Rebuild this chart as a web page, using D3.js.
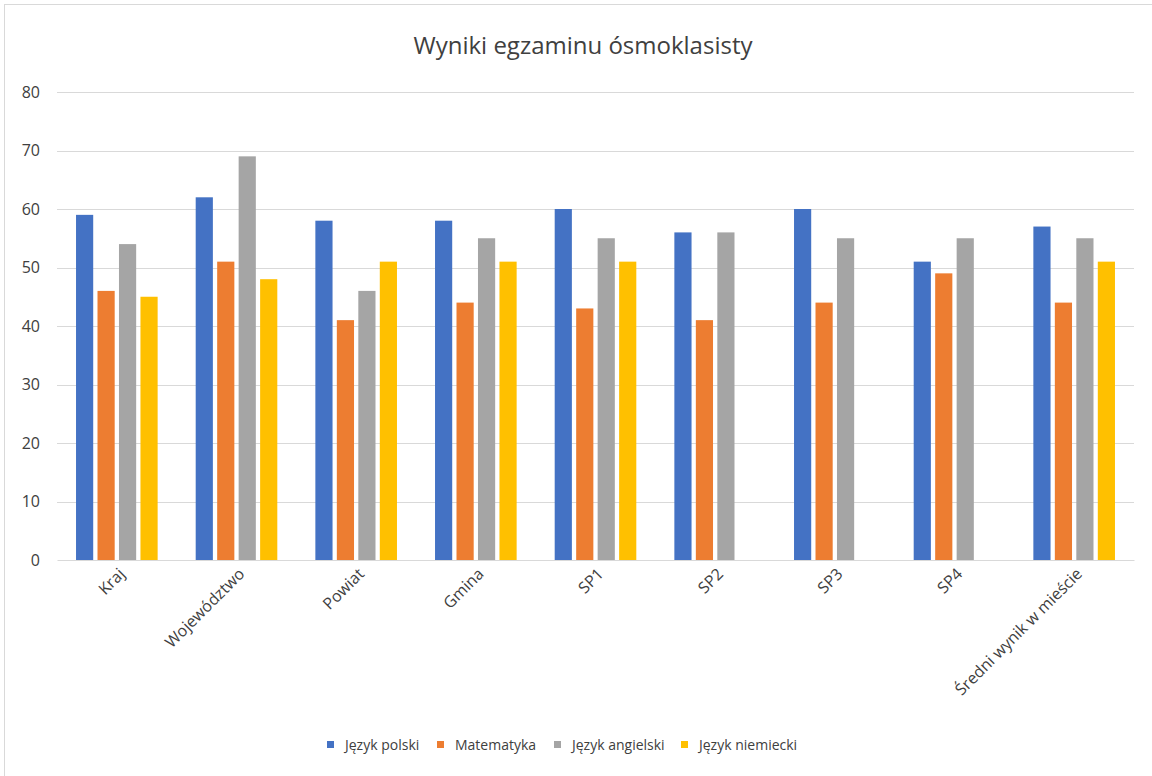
<!DOCTYPE html>
<html>
<head>
<meta charset="utf-8">
<script src="https://cdn.jsdelivr.net/npm/d3@7"></script>
<style>
  body { margin: 0; background: #fff; }
  text { font-family: "Open Sans", "Noto Sans", sans-serif; fill: #404040; }
</style>
</head>
<body>
<div class="chart"></div>
<script>
// data
var categories = ["Kraj", "Województwo", "Powiat", "Gmina", "SP1", "SP2", "SP3", "SP4", "Średni wynik w mieście"];
var seriesNames = ["Język polski", "Matematyka", "Język angielski", "Język niemiecki"];
var polski     = [59, 62, 58, 58, 60, 56, 60, 51, 57];
var matematyka = [46, 51, 41, 44, 43, 41, 44, 49, 44];
var angielski  = [54, 69, 46, 55, 55, 56, 55, 55, 55];
var niemiecki  = [45, 48, 51, 51, 51, null, null, null, 51];
var yTicks = [0, 10, 20, 30, 40, 50, 60, 70, 80];
var colors = ["#4472C4", "#ED7D31", "#A5A5A5", "#FFC000"];

var svgWidth = 1152;
var svgHeight = 776;
var margin = { top: 92, right: 18, bottom: 216, left: 57 };
var width = svgWidth - margin.left - margin.right;
var height = svgHeight - margin.top - margin.bottom;

var svg = d3.select(".chart")
  .append("svg")
  .attr("width", svgWidth)
  .attr("height", svgHeight);

// outer chart border
svg.append("rect")
  .attr("x", 4.5).attr("y", 4.5)
  .attr("width", svgWidth + 20).attr("height", svgHeight + 20)
  .attr("fill", "none")
  .attr("stroke", "#d9d9d9");

svg.append("text")
  .attr("x", 583)
  .attr("y", 54)
  .attr("text-anchor", "middle")
  .style("font-size", "24px")
  .text("Wyniki egzaminu ósmoklasisty");

var chartGroup = svg.append("g")
  .attr("transform", `translate(${margin.left}, ${margin.top})`);

var x0 = d3.scaleBand()
  .domain(categories)
  .range([0, width]);

var bw = x0.bandwidth();
var x1 = d3.scaleBand()
  .domain(seriesNames)
  .range([bw * 0.159, bw * 0.841])
  .paddingInner(0.2);

var y = d3.scaleLinear()
  .domain([0, 80])
  .range([height, 0]);

// gridlines
chartGroup.append("g")
  .selectAll("line")
  .data(yTicks.slice(1))
  .enter()
  .append("line")
  .attr("x1", 0)
  .attr("x2", width)
  .attr("y1", d => Math.round(y(d)) + 0.5)
  .attr("y2", d => Math.round(y(d)) + 0.5)
  .attr("stroke", "#d9d9d9");

// y axis labels
var leftAxis = d3.axisLeft(y).tickValues(yTicks).tickSize(0).tickPadding(17);
var yAxis = chartGroup.append("g").call(leftAxis);
yAxis.select(".domain").remove();
yAxis.selectAll("text")
  .style("font-size", "16px")
  .style("font-family", "\"Open Sans\", sans-serif")
  .attr("fill", "#404040");

var allSeries = [polski, matematyka, angielski, niemiecki];
var rows = [];
categories.forEach(function(c, i) {
  seriesNames.forEach(function(s, j) {
    if (allSeries[j][i] !== null) {
      rows.push({ cat: c, series: s, idx: j, value: allSeries[j][i] });
    }
  });
});

chartGroup.selectAll("rect.bar")
  .data(rows)
  .enter()
  .append("rect")
  .attr("class", "bar")
  .attr("x", d => x0(d.cat) + x1(d.series))
  .attr("y", d => y(d.value))
  .attr("width", x1.bandwidth())
  .attr("height", d => height - y(d.value))
  .attr("fill", d => colors[d.idx]);

// x axis
var bottomAxis = d3.axisBottom(x0).tickSize(0).tickPadding(0);
var xAxis = chartGroup.append("g")
  .attr("transform", `translate(0, ${height})`)
  .call(bottomAxis);
xAxis.select(".domain").attr("stroke", "#d9d9d9");
xAxis.selectAll("text")
  .attr("fill", "#404040")
  .style("font-size", "16px")
  .style("font-family", "\"Open Sans\", sans-serif")
  .attr("text-anchor", "end")
  .attr("dy", 0)
  .attr("transform", "translate(9, 15) rotate(-45)");

// legend
var legendX = [327, 437, 554, 681];
var legend = svg.append("g");
seriesNames.forEach(function(s, j) {
  legend.append("rect")
    .attr("x", legendX[j])
    .attr("y", 741)
    .attr("width", 7)
    .attr("height", 7)
    .attr("fill", colors[j]);
  legend.append("text")
    .attr("x", legendX[j] + 18)
    .attr("y", 750)
    .style("font-size", "14px")
    .text(s);
});
</script>
</body>
</html>
